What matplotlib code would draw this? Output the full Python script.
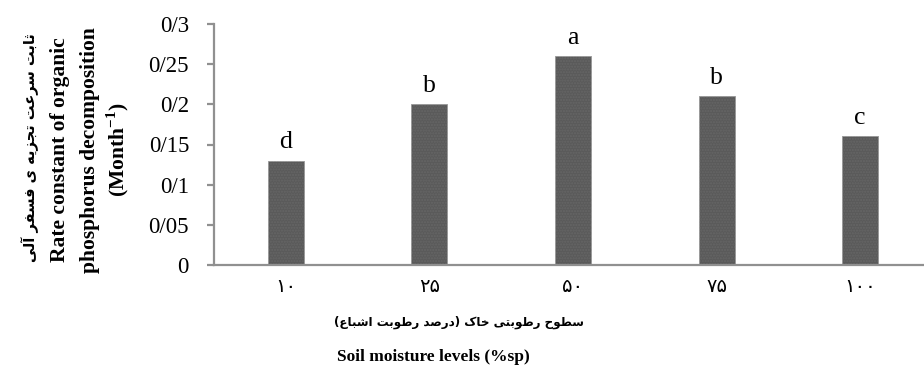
import matplotlib.pyplot as plt
import numpy as np

# rate constant of organic P decomposition per soil moisture level
levels = ["۱۰", "۲۵", "۵۰", "۷۵", "۱۰۰"]
rates = [0.13, 0.20, 0.26, 0.21, 0.16]
groups = ["d", "b", "a", "b", "c"]
yticks = [0, 0.05, 0.1, 0.15, 0.2, 0.25, 0.3]
ytick_labels = ["0", "0/05", "0/1", "0/15", "0/2", "0/25", "0/3"]

ylabel_fa = "ثابت سرعت تجزیه ی فسفر آلی"
xlabel_fa = "سطوح رطوبتی خاک (درصد رطوبت اشباع)"

# matplotlib has no arabic shaping, so pick presentation forms by hand
# (isolated, final, initial, medial); None = does not join to the next letter
FORMS = {
    "ا": (0xFE8D, 0xFE8E, None, None),
    "آ": (0xFE81, 0xFE82, None, None),
    "ب": (0xFE8F, 0xFE90, 0xFE91, 0xFE92),
    "ت": (0xFE95, 0xFE96, 0xFE97, 0xFE98),
    "ث": (0xFE99, 0xFE9A, 0xFE9B, 0xFE9C),
    "ج": (0xFE9D, 0xFE9E, 0xFE9F, 0xFEA0),
    "ح": (0xFEA1, 0xFEA2, 0xFEA3, 0xFEA4),
    "خ": (0xFEA5, 0xFEA6, 0xFEA7, 0xFEA8),
    "د": (0xFEA9, 0xFEAA, None, None),
    "ر": (0xFEAD, 0xFEAE, None, None),
    "ز": (0xFEAF, 0xFEB0, None, None),
    "س": (0xFEB1, 0xFEB2, 0xFEB3, 0xFEB4),
    "ش": (0xFEB5, 0xFEB6, 0xFEB7, 0xFEB8),
    "ص": (0xFEB9, 0xFEBA, 0xFEBB, 0xFEBC),
    "ط": (0xFEC1, 0xFEC2, 0xFEC3, 0xFEC4),
    "ع": (0xFEC9, 0xFECA, 0xFECB, 0xFECC),
    "ف": (0xFED1, 0xFED2, 0xFED3, 0xFED4),
    "ک": (0xFB8E, 0xFB8F, 0xFB90, 0xFB91),
    "ل": (0xFEDD, 0xFEDE, 0xFEDF, 0xFEE0),
    "م": (0xFEE1, 0xFEE2, 0xFEE3, 0xFEE4),
    "ن": (0xFEE5, 0xFEE6, 0xFEE7, 0xFEE8),
    "ه": (0xFEE9, 0xFEEA, 0xFEEB, 0xFEEC),
    "و": (0xFEED, 0xFEEE, None, None),
    "ی": (0xFBFC, 0xFBFD, 0xFBFE, 0xFBFF),
}
MIRROR = {"(": ")", ")": "("}


def shape(text):
    out = []
    for i, ch in enumerate(text):
        if ch not in FORMS:
            out.append(MIRROR.get(ch, ch))
            continue
        prev = text[i - 1] if i > 0 else ""
        nxt = text[i + 1] if i + 1 < len(text) else ""
        join_prev = prev in FORMS and FORMS[prev][2] is not None
        join_next = nxt in FORMS and FORMS[ch][2] is not None
        iso, fin, ini, med = FORMS[ch]
        if join_prev and join_next:
            code = med
        elif join_prev:
            code = fin
        elif join_next:
            code = ini
        else:
            code = iso
        out.append(chr(code))
    return "".join(reversed(out))


plt.rcParams["font.family"] = ["Liberation Serif", "DejaVu Sans"]
plt.rcParams["mathtext.fontset"] = "custom"
plt.rcParams["mathtext.rm"] = "Liberation Serif"
plt.rcParams["mathtext.bf"] = "Liberation Serif:bold"

fig = plt.figure(figsize=(9.24, 3.72), dpi=100)
ax = fig.add_axes([214 / 924, 1 - 265 / 372, 718 / 924, 241 / 372])

x = np.arange(len(levels))
bars = ax.bar(x, rates, width=0.25, color="#5a5a5a", edgecolor="#9a9a9a",
              linewidth=0.6, hatch="......", zorder=2)
for b in bars:
    b._hatch_color = (0.40, 0.40, 0.40, 1.0)

for xi, r, g in zip(x, rates, groups):
    ax.annotate(g, (xi, r), xytext=(0, 9), textcoords="offset points",
                ha="center", va="baseline", fontsize=18.5)

ax.set_xlim(-0.5, 4.5)
ax.set_ylim(0, 0.3)
ax.set_yticks(yticks)
ax.set_yticklabels(ytick_labels, fontsize=16.5)
ax.set_xticks(x)
ax.set_xticklabels(levels, family=["DejaVu Sans"], fontsize=14)

for side in ["top", "right"]:
    ax.spines[side].set_visible(False)
for side in ["left", "bottom"]:
    ax.spines[side].set_color("#909090")
    ax.spines[side].set_linewidth(1.6)
ax.tick_params(axis="y", length=5, width=1.6, color="#909090", pad=13)
ax.tick_params(axis="x", length=0, pad=9)

# stacked y label: persian line plus english lines
fig.text(30 / 924, 1 - 148 / 372, shape(ylabel_fa), rotation=90, ha="center",
         va="center", fontsize=10.5, fontweight="bold", family=["DejaVu Sans"])
fig.text(60 / 924, 1 - 150 / 372, "Rate constant of organic", rotation=90,
         ha="center", va="center", fontsize=15.5, fontweight="bold")
fig.text(90 / 924, 1 - 150 / 372, "phosphorus decomposition", rotation=90,
         ha="center", va="center", fontsize=15.5, fontweight="bold")
fig.text(118 / 924, 1 - 150 / 372, r"(Month$^{\mathbf{-1}}$)", rotation=90,
         ha="center", va="center", fontsize=15.5, fontweight="bold")

fig.text(459 / 924, 1 - 322 / 372, shape(xlabel_fa), ha="center", va="center",
         fontsize=8.6, fontweight="bold", family=["DejaVu Sans"])
fig.text(433 / 924, 1 - 357 / 372, "Soil moisture levels (%sp)", ha="center",
         va="center", fontsize=12.5, fontweight="bold")

fig.savefig("out.png", dpi=100)
